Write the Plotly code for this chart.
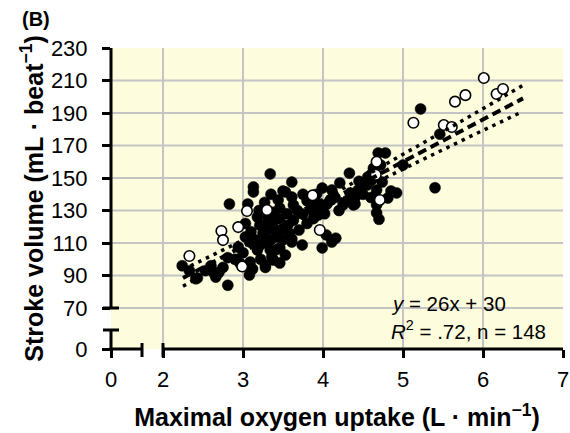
import plotly.graph_objects as go

# ---------------- data ----------------
filled_vo2 = [2.24, 2.33, 2.43, 2.53, 2.63, 2.66, 2.75, 2.81, 2.81, 2.83, 2.94, 2.96, 3.03, 3.03, 3.06,
              3.08, 3.09, 3.09, 3.13, 3.13, 3.18, 3.18, 3.21, 3.28, 3.30, 3.31, 3.34, 3.34, 3.36, 3.38,
              3.43, 3.25, 3.30, 3.38, 3.44, 3.46, 3.46, 3.53, 3.38, 3.28, 3.46, 3.49, 3.53, 3.56, 3.61,
              3.61, 3.61, 3.63, 3.63, 3.74, 3.75, 3.75, 3.90, 3.94, 3.96, 3.99, 3.99, 4.04, 4.09, 4.11,
              4.11, 4.16, 4.21, 4.25, 4.33, 4.34, 4.38, 4.44, 4.55, 4.56, 4.61, 4.63, 4.67, 4.69, 4.78,
              4.74, 4.81, 4.92, 4.67, 4.67, 4.70, 5.00, 5.22, 5.40, 5.46, 2.41, 3.61, 3.50, 3.10, 3.15,
              3.20, 3.22, 3.25, 3.35, 3.40, 3.45, 3.50, 3.55, 3.20, 3.27, 3.35, 3.42, 3.58, 3.68, 3.70,
              3.80, 3.85, 3.88, 3.92, 3.80, 4.02, 4.05, 4.15, 4.20, 4.30, 4.40, 4.40, 4.50, 4.60, 4.72,
              4.45, 4.85, 4.60, 2.90, 2.70, 2.60, 3.00, 3.12]
filled_sv = [96, 93, 88.5, 93, 92, 89, 95, 84, 101, 134, 107.5, 97.7, 122, 113.7, 134,
             90.3, 110.6, 98.3, 144.5, 141.4, 105.7, 126, 121, 96.5, 118, 126, 152.5, 105.7, 101.4, 124,
             113.7, 116, 122.3, 129, 136.5, 131.5, 107, 102.6, 99.5, 95, 97.7, 118.6, 141.4, 121, 147.5,
             138.3, 110.6, 133.4, 124, 108.8, 140, 127.8, 135, 127.2, 132, 143.8, 107, 115, 136.5, 142.6,
             110.6, 113, 147, 133.4, 153, 140.8, 133.4, 142.6, 145.7, 150.6, 148.8, 156, 142.6, 165.4, 165.4,
             147.5, 137.7, 140.8, 133.4, 128.5, 124.6, 158, 192.5, 144, 177, 88, 112.5, 142, 117, 112,
             108, 100, 110, 112, 118, 125, 112, 128, 130, 135, 140, 106, 116, 130, 118,
             136, 131, 125, 140, 122, 128, 134, 138, 130, 136, 138, 134, 140, 152, 158,
             148, 142, 138, 100, 92, 96, 104, 94]

open_vo2 = [2.33, 2.73, 2.75, 2.94, 3.05, 3.30, 2.99, 3.87, 3.96, 4.67, 4.66, 4.71, 5.13, 5.51, 5.61,
            5.65, 5.78, 6.01, 6.17, 6.25]
open_sv = [102, 117.4, 111.8, 119.8, 129.7, 130.3, 95.5, 139.3, 118, 160, 152, 136.5, 184, 182.6, 181.4,
           197, 201, 211.5, 201.7, 204.8]

fit_vo2 = [2.25, 6.5]
fit_sv = [88.5, 199.0]
band_vo2 = [2.25, 2.8, 3.5, 4.2, 5.0, 5.8, 6.5]
band_upper = [93.6, 106.7, 123.8, 142.1, 164.3, 187.0, 207.0]
band_lower = [83.4, 98.9, 118.2, 136.3, 155.7, 174.6, 191.0]

# axis ticks: the "0" tick sits before an axis break
x_tickvals = [1.35, 2, 3, 4, 5, 6, 7]
x_ticktext = ["0", "2", "3", "4", "5", "6", "7"]
y_tickvals = [44.77, 70, 90, 110, 130, 150, 170, 190, 210, 230]
y_ticktext = ["0", "70", "90", "110", "130", "150", "170", "190", "210", "230"]
x_grid = [2, 3, 4, 5, 6]
y_grid = [70, 90, 110, 130, 150, 170, 190, 210]

X_RANGE = [1.35, 7.0]
Y_RANGE = [44.77, 230.0]

# ---------------- layout geometry ----------------
W, H = 570, 433
L, R, T, B = 111, 7, 48, 84
PW, PH = W - L - R, H - T - B


def px(xp):
    return (xp - L) / PW


def py(yp):
    return (H - B - yp) / PH


FONT = "Liberation Sans, Arial, sans-serif"
BG = "#fdfcdc"
GRID = "#c4c4c4"

fig = go.Figure()

# light grid lines, drawn as a line trace below the markers
gx, gy = [], []
for v in x_grid:
    gx += [v, v, None]
    gy += [Y_RANGE[0], Y_RANGE[1], None]
for v in y_grid:
    gx += [X_RANGE[0], X_RANGE[1], None]
    gy += [v, v, None]
fig.add_trace(go.Scatter(x=gx, y=gy, mode="lines", line=dict(color=GRID, width=2),
                         connectgaps=False, showlegend=False, hoverinfo="skip"))

fig.add_trace(go.Scatter(
    x=filled_vo2, y=filled_sv, mode="markers",
    marker=dict(size=11, color="black", line=dict(color="black", width=0.5)),
    showlegend=False, hoverinfo="x+y"))
fig.add_trace(go.Scatter(
    x=open_vo2, y=open_sv, mode="markers",
    marker=dict(size=10.5, color="white", line=dict(color="black", width=1.6)),
    showlegend=False, hoverinfo="x+y"))
fig.add_trace(go.Scatter(
    x=band_vo2, y=band_upper, mode="lines",
    line=dict(color="black", width=3.5, dash="3.5px,5px"), showlegend=False, hoverinfo="skip"))
fig.add_trace(go.Scatter(
    x=band_vo2, y=band_lower, mode="lines",
    line=dict(color="black", width=3.5, dash="3.5px,5px"), showlegend=False, hoverinfo="skip"))
fig.add_trace(go.Scatter(
    x=fit_vo2, y=fit_sv, mode="lines",
    line=dict(color="black", width=4, dash="9px,5px"), showlegend=False, hoverinfo="skip"))

shapes = []
AX = dict(color="black", width=3)
# y axis (broken between 0 and 70)
shapes.append(dict(type="line", xref="paper", yref="paper", x0=0, x1=0, y0=py(308), y1=1.0, line=AX))
shapes.append(dict(type="line", xref="paper", yref="paper", x0=0, x1=0, y0=-0.004, y1=py(330), line=AX))
for yb in (308, 330):
    shapes.append(dict(type="line", xref="paper", yref="paper", x0=px(103), x1=px(119),
                       y0=py(yb), y1=py(yb), line=AX))
# x axis (broken between 0 and 2)
shapes.append(dict(type="line", xref="paper", yref="paper", x0=px(109.5), x1=px(142), y0=0, y1=0, line=AX))
shapes.append(dict(type="line", xref="paper", yref="paper", x0=px(163), x1=1.0, y0=0, y1=0, line=AX))
for xb in (142, 163):
    shapes.append(dict(type="line", xref="paper", yref="paper", x0=px(xb), x1=px(xb),
                       y0=py(343), y1=py(357), line=AX))

fig.update_layout(
    width=W, height=H,
    margin=dict(l=L, r=R, t=T, b=B, autoexpand=False),
    paper_bgcolor="white", plot_bgcolor=BG,
    font=dict(family=FONT, color="black", size=22),
    shapes=shapes,
    xaxis=dict(range=X_RANGE, tickvals=x_tickvals, ticktext=x_ticktext,
               showgrid=False, zeroline=False, showline=False,
               ticks="outside", ticklen=8, tickwidth=3, tickcolor="black",
               tickfont=dict(size=22), ticklabelstandoff=3,
               title=dict(text="<b>Maximal oxygen uptake (L · min<sup>−1</sup>)</b>",
                          font=dict(size=25), standoff=17),
               automargin=False, fixedrange=True),
    yaxis=dict(range=Y_RANGE, tickvals=y_tickvals, ticktext=y_ticktext,
               showgrid=False, zeroline=False, showline=False,
               ticks="outside", ticklen=8, tickwidth=3, tickcolor="black",
               tickfont=dict(size=22), ticklabelstandoff=10,
               title=dict(text="<b>Stroke volume (mL · beat<sup>−1</sup>)</b>",
                          font=dict(size=25), standoff=0),
               automargin=False, fixedrange=True),
    annotations=[
        dict(text="<b>(B)</b>", xref="paper", yref="paper", x=px(36), y=py(19),
             xanchor="center", yanchor="middle", showarrow=False, font=dict(size=20)),
        dict(text="<i>y</i> = 26x + 30", xref="paper", yref="paper", x=px(389), y=py(303),
             xanchor="left", yanchor="middle", showarrow=False, font=dict(size=20.5)),
        dict(text="<i>R</i><sup>2</sup> = .72, n = 148", xref="paper", yref="paper", x=px(389), y=py(330),
             xanchor="left", yanchor="middle", showarrow=False, font=dict(size=20.5)),
    ],
)

fig.write_html("out.html", config={"displayModeBar": False},
               post_script="document.body.style.margin='0';")
